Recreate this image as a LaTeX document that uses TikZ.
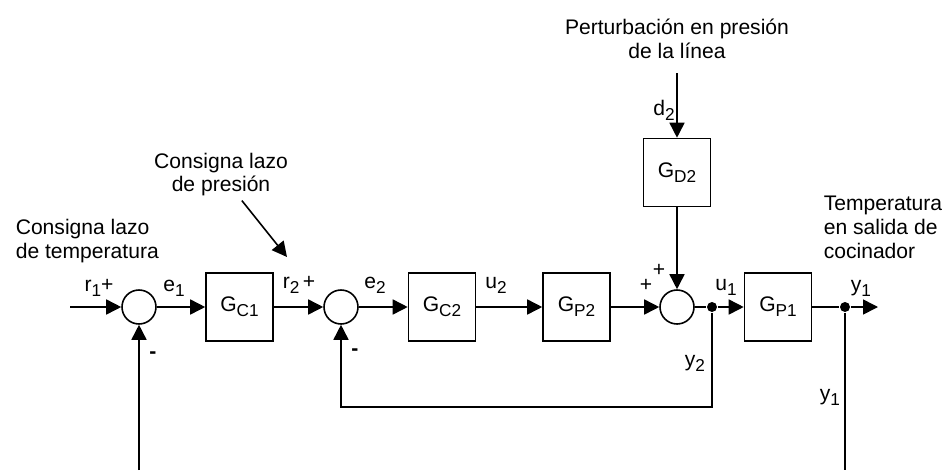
\documentclass[tikz,border=0pt]{standalone}
\usepackage{fontspec}
\setmainfont{Liberation Sans}
\usetikzlibrary{positioning,arrows.meta}
\newcommand{\lsub}[1]{\raisebox{-0.45ex}{\fontsize{9.8}{10}\selectfont #1}}

\begin{document}
\begin{tikzpicture}[
    font=\fontsize{12}{13.6}\selectfont,
    line width=0.9pt,
    block/.style={draw, minimum width=1.34cm, minimum height=1.36cm, inner sep=0pt},
    sumnode/.style={draw, circle, minimum size=0.68cm, inner sep=0pt},
    junc/.style={circle, fill, minimum size=0.2cm, inner sep=0pt},
    sig/.style={inner sep=0pt},
    note/.style={inner sep=0pt, align=left},
    arr/.style={-{Triangle[length=3mm,width=3mm]}}
]
\useasboundingbox (0,0) rectangle (18.94,9.40);

% Summing junctions and blocks
\node[sumnode] (sum1) at (2.78,3.26) {};
\node[block] (gc1) at (4.79,3.26) {G\lsub{C1}};
\node[sumnode] (sum2) at (6.82,3.26) {};
\node[block] (gc2) at (8.84,3.26) {G\lsub{C2}};
\node[block] (gp2) at (11.53,3.26) {G\lsub{P2}};
\node[sumnode] (sum3) at (13.54,3.26) {};
\node[block] (gd2) at (13.54,5.95) {G\lsub{D2}};
\node[junc] (y2dot) at (14.24,3.26) {};
\node[block] (gp1) at (15.56,3.26) {G\lsub{P1}};
\node[junc] (y1dot) at (16.90,3.26) {};

% Free ends
\coordinate (in) at (1.40,3.26);
\coordinate (yout) at (17.56,3.26);
\coordinate (dtop) at (13.54,7.94);
\coordinate (fbin) at (6.82,1.26);
\coordinate (fbl) at (2.78,0);
\coordinate (fbr) at (16.90,0);
\coordinate (r2pt) at (5.74,4.26);

% Forward path
\draw[arr] (in) -- (sum1);
\draw[arr] (sum1) -- (gc1);
\draw[arr] (gc1) -- (sum2);
\draw[arr] (sum2) -- (gc2);
\draw[arr] (gc2) -- (gp2);
\draw[arr] (gp2) -- (sum3);
\draw (sum3) -- (y2dot);
\draw[arr] (y2dot) -- (gp1);
\draw (gp1) -- (y1dot);
\draw[arr] (y1dot) -- (yout);

% Disturbance
\draw[arr] (dtop) -- (gd2);
\draw[arr] (gd2) -- (sum3);

% Feedback loops
\draw[arr] (y2dot) |- (fbin) -- (sum2);
\draw (y1dot) -- (fbr);
\draw[arr] (fbl) -- (sum1);

% Signal labels
\node[sig] (lr1) at (1.98,3.64) {r\lsub{1}+};
\node[sig] (le1) at (3.48,3.64) {e\lsub{1}};
\node[sig] (lm1) at (3.06,2.30) {\textbf{-}};
\node[sig] (lr2) at (5.98,3.70) {r\lsub{2}\,+};
\node[sig] (le2) at (7.50,3.70) {e\lsub{2}};
\node[sig] (lm2) at (7.10,2.36) {\textbf{-}};
\node[sig] (lu2) at (9.92,3.70) {u\lsub{2}};
\node[sig] (lp1) at (12.92,3.70) {+};
\node[sig] (lp2) at (13.18,4.00) {+};
\node[sig] (lu1) at (14.52,3.66) {u\lsub{1}};
\node[sig] (ly2) at (13.90,2.14) {y\lsub{2}};
\node[sig] (ly1) at (17.22,3.64) {y\lsub{1}};
\node[sig] (ly1b) at (16.60,1.46) {y\lsub{1}};
\node[sig] (ld2) at (13.28,7.20) {d\lsub{2}};

% Descriptions
\node[note, align=center] (pert) at (13.54,8.63) {Perturbación en presión\\de la línea};
\node[note, align=center, inner sep=2pt] (cpres) at (4.42,5.91) {Consigna lazo\\de presión};
\node[note, anchor=west] (ctemp) at (0.30,4.58) {Consigna lazo\\de temperatura};
\node[note, anchor=west] (tout) at (16.46,4.86) {Temperatura\\en salida de\\cocinador};

\draw[arr] (cpres) -- (r2pt);

\end{tikzpicture}
\end{document}
